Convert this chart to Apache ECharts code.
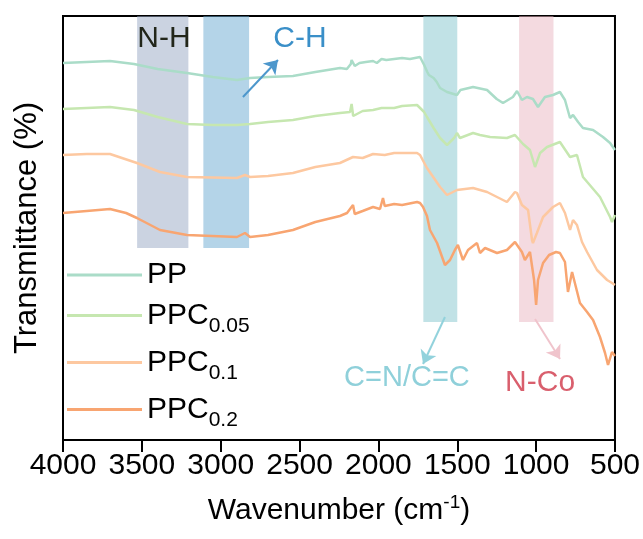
<!DOCTYPE html>
<html>
<head>
<meta charset="utf-8">
<script src="https://cdn.jsdelivr.net/npm/echarts@6/dist/echarts.min.js"></script>
<style>html,body{margin:0;padding:0;background:#fff;}#c{width:643px;height:539px;}</style>
</head>
<body>
<div id="c"></div>
<script>
// Wavenumber tick labels
var xTicks = [4000, 3500, 3000, 2500, 2000, 1500, 1000, 500];
var seriesNames = ['PP', 'PPC0.05', 'PPC0.1', 'PPC0.2'];

// [wavenumber (cm-1), transmittance (a.u., offset)]
var dataPP = [
  [4000,94.25],[3850,94.5],[3702,94.75],[3550,94],[3400,92.75],[3214,91.75],[3050,90.75],[2897,90],
  [2814,90.5],[2700,90.75],[2542,91],[2400,92],[2244,93],[2200,92.75],[2175,94],[2170,95],[2150,93.5],
  [2120,94.25],[2080,94.5],[2034,94.75],[2010,94.25],[1980,95.25],[1950,95],[1900,95.25],[1850,95.5],
  [1800,95.25],[1736,95.75],[1710,93.75],[1690,92],[1680,91.25],[1650,90.5],[1630,89.5],[1609,88],
  [1565,87],[1502,86.25],[1480,87.5],[1400,88.25],[1311,87.5],[1250,85.25],[1210,84.25],[1147,85.75],
  [1121,87.25],[1090,85],[1058,85.75],[1020,85.25],[988,83.25],[944,85.75],[893,86.25],[849,87],[817,85],
  [785,80.5],[766,81.25],[734,79.5],[703,78],[639,77.5],[576,75.75],[531,74.25],[500,72.5]
];
var dataPPC005 = [
  [4000,82.75],[3850,83],[3702,83.25],[3550,82.5],[3400,80.75],[3214,79],[3050,78.75],[2897,78.75],
  [2814,79],[2700,79.5],[2542,80],[2400,81],[2244,81.75],[2180,82],[2170,84],[2160,81],[2100,82.25],
  [2034,82.5],[1980,83],[1900,83],[1850,83.5],[1755,83.75],[1710,82],[1692,80.75],[1650,78],[1609,75.5],
  [1565,73.75],[1520,75.5],[1502,76.75],[1483,75.5],[1400,76.75],[1356,76.25],[1292,75.75],[1185,75.5],
  [1134,76.25],[1083,74],[1039,72.5],[1007,68.25],[975,71.75],[931,73.25],[849,74.5],[785,70.75],
  [741,71.25],[703,65.75],[595,60.75],[531,55.75],[519,54.5],[500,56.25]
];
var dataPPC01 = [
  [4000,71.25],[3850,71.5],[3702,71.5],[3531,69.25],[3385,67],[3214,65.75],[2897,65.5],[2846,66.25],
  [2814,65.75],[2700,66],[2542,66.75],[2400,68.25],[2244,69.25],[2161,70.75],[2100,70.5],[2034,71.5],
  [1960,71.25],[1900,71.75],[1755,71.75],[1736,71.25],[1692,68],[1609,63.25],[1565,61.25],[1502,62.5],
  [1400,63],[1311,62],[1185,59.5],[1134,62],[1121,61.75],[1090,58.75],[1051,57.5],[1026,50],[1020,49.25],
  [995,51.75],[956,55.75],[893,58.25],[849,59.25],[817,56.75],[785,52.5],[766,55],[741,53.75],[709,49.5],
  [677,47],[614,42.5],[550,40],[519,39.25],[500,38.75]
];
var dataPPC02 = [
  [4000,56.75],[3850,57.25],[3702,57.75],[3600,56.75],[3531,55.5],[3385,52.5],[3214,51.25],[2897,50.75],
  [2846,51.75],[2814,50.75],[2700,51.25],[2542,52.5],[2400,54.5],[2244,56],[2199,56.75],[2161,58.75],
  [2150,56.5],[2100,57.25],[2034,58.25],[1990,57.75],[1971,60.5],[1960,58.5],[1900,59],[1850,58.75],
  [1755,59.5],[1736,59.25],[1717,58.25],[1692,56],[1673,52.5],[1628,49.25],[1578,43.75],[1546,45],
  [1515,47.5],[1496,48.75],[1464,45],[1432,47.5],[1375,49.25],[1356,46.75],[1324,48],[1248,46.75],
  [1185,47.5],[1134,49.5],[1090,47],[1071,45],[1039,47],[1013,40],[1000,33.75],[988,40],[956,44.25],
  [918,46.25],[874,47],[849,46.75],[817,44.5],[798,37],[772,42],[722,34.25],[677,32],[639,30],
  [595,25.75],[563,21.75],[544,18.75],[519,22],[500,21]
];

// shaded bands: [from, to, bottom]
var bands = [
  {from: 3530, to: 3205, bottom: 48, color: 'rgba(151,167,195,0.5)'},
  {from: 3110, to: 2820, bottom: 48, color: 'rgba(105,169,209,0.5)'},
  {from: 1715, to: 1500, bottom: 29.5, color: 'rgba(131,197,205,0.5)'},
  {from: 1108, to: 890, bottom: 29.5, color: 'rgba(233,181,193,0.5)'}
];
// annotation texts: [wavenumber, y, text, color, size]
var labels = [
  [3360, 100.25, 'N-H', '#22261a', 30],
  [2497, 100.25, 'C-H', '#3a8fc8', 30],
  [1819, 15.5, 'C=N/C=C', '#8fd0da', 29],
  [975, 14.25, 'N-Co', '#d95f6d', 30]
];
// arrows: [fromW, fromY, toW, toY, color]
var arrows = [
  [2859, 85.75, 2637, 95, '#4d97cc'],
  [1578, 30.75, 1717, 19, '#92d2dc'],
  [1007, 30.25, 848.5, 20.25, '#f0c4cc']
];
var colors = ['#aadcc8', '#c6e7b0', '#fdc8a0', '#f8a571'];
var FONT = 'Liberation Sans, Arial, sans-serif';

var chart = echarts.init(document.getElementById('c'), null, {renderer: 'canvas'});
var lineData = [dataPP, dataPPC005, dataPPC01, dataPPC02];
var series = lineData.map(function (d, i) {
  return {
    name: seriesNames[i], type: 'line', data: d, showSymbol: false, symbol: 'none',
    lineStyle: {color: colors[i], width: 2.5}, itemStyle: {color: colors[i]}, z: 2, animation: false
  };
});
series.push({
  type: 'line', data: [], z: 5, animation: false, silent: true,
  markArea: {
    silent: true,
    data: bands.map(function (b) {
      return [{xAxis: b.from, yAxis: b.bottom, itemStyle: {color: b.color}}, {xAxis: b.to, yAxis: 106}];
    })
  },
  markLine: {
    silent: true, animation: false,
    symbol: ['none', 'arrow'], symbolSize: 13,
    label: {show: false},
    data: arrows.map(function (a) {
      return [{coord: [a[0], a[1]], lineStyle: {color: a[4], width: 2, type: 'solid'}, itemStyle: {color: a[4]}},
              {coord: [a[2], a[3]]}];
    })
  },
  markPoint: {
    silent: true, animation: false, symbol: 'circle', symbolSize: 0,
    data: labels.map(function (l) {
      return {coord: [l[0], l[1]], label: {show: true, position: 'inside', formatter: l[2], color: l[3], fontSize: l[4], fontFamily: FONT}};
    })
  }
});

chart.setOption({
  animation: false,
  backgroundColor: '#fff',
  grid: {left: 63, right: 28, top: 16, bottom: 99, show: true, borderColor: '#000', borderWidth: 2, backgroundColor: 'transparent'},
  legend: {
    data: seriesNames, orient: 'vertical', left: 62, top: 255, itemGap: 4,
    icon: 'rect', itemWidth: 75, itemHeight: 3, selectedMode: false,
    formatter: function (n) {
      if (n === 'PP') return '{a|PP}';
      return '{a|PPC}{s|' + n.slice(3) + '}';
    },
    textStyle: {
      fontFamily: FONT, color: '#000', fontSize: 30,
      rich: {
        a: {fontSize: 30, lineHeight: 30, fontFamily: FONT, color: '#000', verticalAlign: 'middle'},
        s: {fontSize: 21, lineHeight: 21, fontFamily: FONT, color: '#000', verticalAlign: 'middle', padding: [22, 0, 0, 0]}
      }
    }
  },
  xAxis: {
    type: 'value', inverse: true, min: 500, max: 4000, interval: 500,
    name: '{a|Wavenumber (cm}{s|-1}{a|)}', nameLocation: 'middle', nameGap: 56,
    nameTextStyle: {
      fontFamily: FONT, color: '#000', fontSize: 30,
      rich: {
        a: {fontSize: 30, fontFamily: FONT, color: '#000', lineHeight: 30},
        s: {fontSize: 19, fontFamily: FONT, color: '#000', lineHeight: 19, padding: [0, 0, 16, 0]}
      }
    },
    axisLine: {show: true, lineStyle: {color: '#000', width: 2}},
    axisTick: {show: true, inside: false, length: 12, lineStyle: {color: '#000', width: 2}},
    axisLabel: {fontFamily: FONT, fontSize: 30, color: '#000', margin: 11, showMinLabel: true, showMaxLabel: true,
      formatter: function (v) { return xTicks.indexOf(v) >= 0 ? String(v) : ''; }},
    splitLine: {show: false}
  },
  yAxis: {
    type: 'value', min: 0, max: 106,
    name: 'Transmittance (%)', nameLocation: 'middle', nameGap: 20, nameRotate: 90,
    nameTextStyle: {fontFamily: FONT, color: '#000', fontSize: 31},
    axisLine: {show: true, lineStyle: {color: '#000', width: 2}},
    axisTick: {show: false}, axisLabel: {show: false}, splitLine: {show: false}
  },
  series: series
});
</script>
</body>
</html>
